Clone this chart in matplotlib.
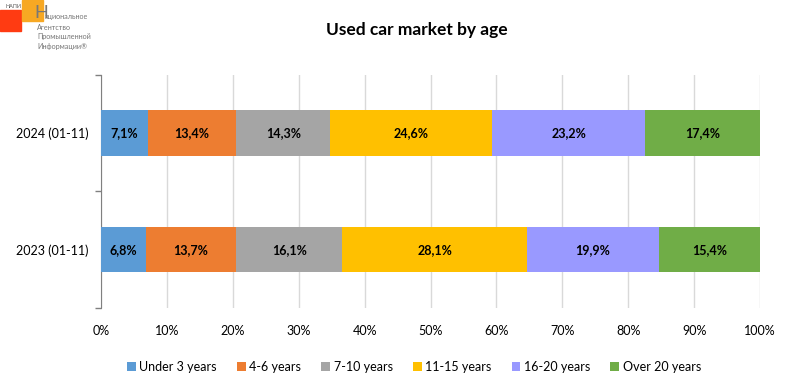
import numpy as np
import matplotlib.pyplot as plt
from matplotlib.patches import Rectangle

plt.rcParams['font.family'] = ['Lato', 'DejaVu Sans']

# ================= DATA =================
periods = ["2023 (01-11)", "2024 (01-11)"]
age_groups = ["Under 3 years", "4-6 years", "7-10 years", "11-15 years", "16-20 years", "Over 20 years"]
share_2023 = [6.8, 13.7, 16.1, 28.1, 19.9, 15.4]
share_2024 = [7.1, 13.4, 14.3, 24.6, 23.2, 17.4]
colors = ["#5B9BD5", "#ED7D31", "#A5A5A5", "#FFC000", "#9999FF", "#70AD47"]

values = np.array([share_2023, share_2024])

# ================= PLOT =================
fig = plt.figure(figsize=(7.85, 3.79), dpi=100)
ax = fig.add_axes([101/785, 1 - 308/379, (760-101)/785, (308-74.5)/379])

y = np.arange(len(periods))
left = np.zeros(len(periods))
for i, name in enumerate(age_groups):
    bars = ax.barh(y, values[:, i], left=left, height=0.39, color=colors[i], label=name, zorder=3)
    for b, v in zip(bars, values[:, i]):
        ax.text(b.get_x() + b.get_width() / 2, b.get_y() + b.get_height() / 2,
                f"{v:.1f}%".replace(".", ","), ha="center", va="center",
                fontsize=9, fontweight="bold", color="black", zorder=4)
    left += values[:, i]

ax.set_xlim(0, 100)
ax.set_ylim(-0.5, 1.5)
ax.set_xticks(np.arange(0, 101, 10))
ax.set_xticklabels([f"{t}%" for t in range(0, 101, 10)], fontsize=9)
ax.set_yticks(y)
ax.set_yticklabels(periods, fontsize=9)
ax.set_yticks([-0.5, 0.5, 1.5], minor=True)
ax.tick_params(axis="y", which="major", length=0, pad=9)
ax.tick_params(axis="y", which="minor", length=4, color="#808080", width=1)
ax.tick_params(axis="x", length=0, pad=12)
ax.grid(axis="x", color="#D9D9D9", linewidth=1, zorder=0)

for s in ["top", "right", "bottom"]:
    ax.spines[s].set_visible(False)
ax.spines["left"].set_color("#808080")

fig.text(417/785, 1 - 30/379, "Used car market by age", ha="center", va="center",
         fontsize=12.5, fontweight="bold")

ax.legend(loc="center", bbox_to_anchor=(414/785, 1 - 367/379), bbox_transform=fig.transFigure,
          ncol=6, frameon=False, fontsize=9, handlelength=0.7, handleheight=0.7,
          handletextpad=0.3, columnspacing=1.6)

# logo
fig.patches.append(Rectangle((0, 1 - 31/379), 21/785, 21/379, transform=fig.transFigure,
                             color="#FF3B12", zorder=1))
fig.patches.append(Rectangle((22/785, 1 - 21/379), 21/785, 21/379, transform=fig.transFigure,
                             color="#F7A823", zorder=1))
fig.text(6/785, 1 - 7/379, "НАПИ", fontsize=4, color="#555555", va="center")
fig.text(34/785, 1 - 13/379, "Н", fontsize=13, color="#777777", va="center")
logo_lines = ["ациональное", "Агентство", "Промышленной", "Информации®"]
fig.text(45/785, 1 - 17/379, logo_lines[0], fontsize=5.2, color="#777777", va="center")
for k, line in enumerate(logo_lines[1:]):
    fig.text(37/785, 1 - (27 + 10*k)/379, line, fontsize=5.2, color="#777777", va="center")

plt.savefig("out.png", dpi=100)
